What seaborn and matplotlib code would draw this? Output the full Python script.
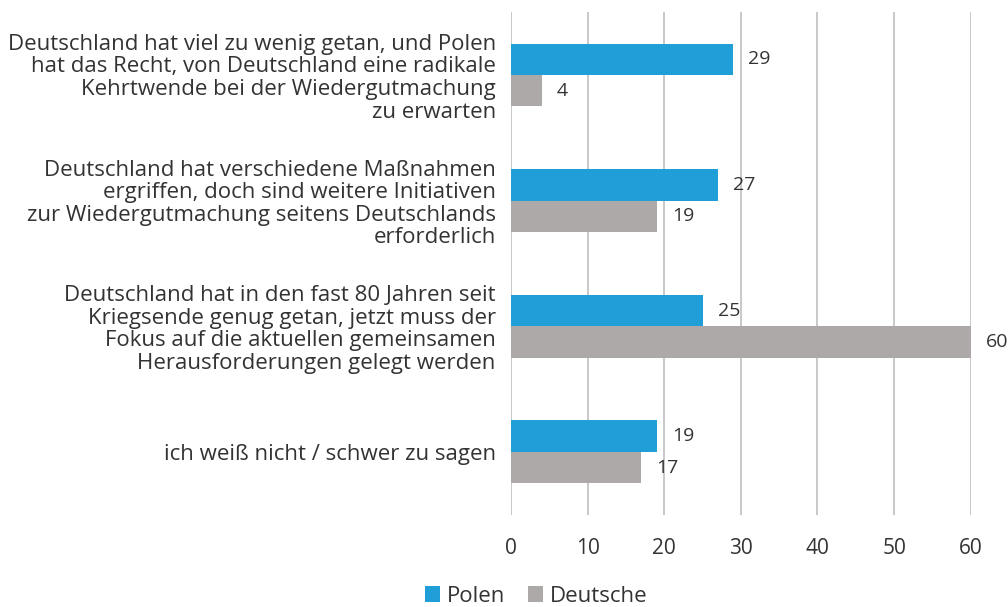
import numpy as np
import pandas as pd
import seaborn as sns
import matplotlib.pyplot as plt

categories = [
    "Deutschland hat viel zu wenig getan, und Polen\nhat das Recht, von Deutschland eine radikale\nKehrtwende bei der Wiedergutmachung\nzu erwarten",
    "Deutschland hat verschiedene Maßnahmen\nergriffen, doch sind weitere Initiativen\nzur Wiedergutmachung seitens Deutschlands\nerforderlich",
    "Deutschland hat in den fast 80 Jahren seit\nKriegsende genug getan, jetzt muss der\nFokus auf die aktuellen gemeinsamen\nHerausforderungen gelegt werden",
    "ich weiß nicht / schwer zu sagen",
]
polen = [29, 27, 25, 19]
deutsche = [4, 19, 60, 17]
series = ["Polen", "Deutsche"]
colors = ["#1F9ED8", "#ADA9A8"]

df = pd.DataFrame({
    "cat": categories * 2,
    "val": polen + deutsche,
    "grp": [series[0]] * 4 + [series[1]] * 4,
})

sns.set_style("white")
plt.rcParams['font.family'] = ['Open Sans', 'DejaVu Sans']
txt = "#333333"

fig = plt.figure(figsize=(10.08, 6.07), dpi=100)
ax = fig.add_axes([0.507, 0.152, 0.456, 0.828])
sns.barplot(data=df, y="cat", x="val", hue="grp", orient="h", width=0.5,
            palette=colors, ax=ax, legend=True, saturation=1, linewidth=0)

for cont in ax.containers:
    ax.bar_label(cont, fmt="%d", padding=11, fontsize=14, color=txt)

ax.set_xlim(0, 60)
ax.set_ylim(3.5, -0.5)
ax.set_xticks(np.arange(0, 61, 10))
ax.xaxis.grid(True, color="#BFBFBF", linewidth=1.2)
ax.set_axisbelow(True)
for s in ax.spines.values():
    s.set_visible(False)
ax.set_xlabel("")
ax.set_ylabel("")
ax.tick_params(axis="x", length=0, pad=17, labelsize=15, labelcolor=txt)
ax.tick_params(axis="y", length=0, pad=11, labelsize=16, labelcolor=txt)
for lab in ax.get_yticklabels():
    lab.set_horizontalalignment("right")
    lab.set_multialignment("right")
    lab.set_linespacing(1.1)

handles, labels = ax.get_legend_handles_labels()
ax.legend(handles, labels, loc="center", bbox_to_anchor=(0.532, 0.018),
          bbox_transform=fig.transFigure, ncol=2, frameon=False,
          fontsize=16, handlelength=0.7, handleheight=0.7, handletextpad=0.3,
          columnspacing=1.0, labelcolor=txt)

plt.savefig("out.png", dpi=100)
